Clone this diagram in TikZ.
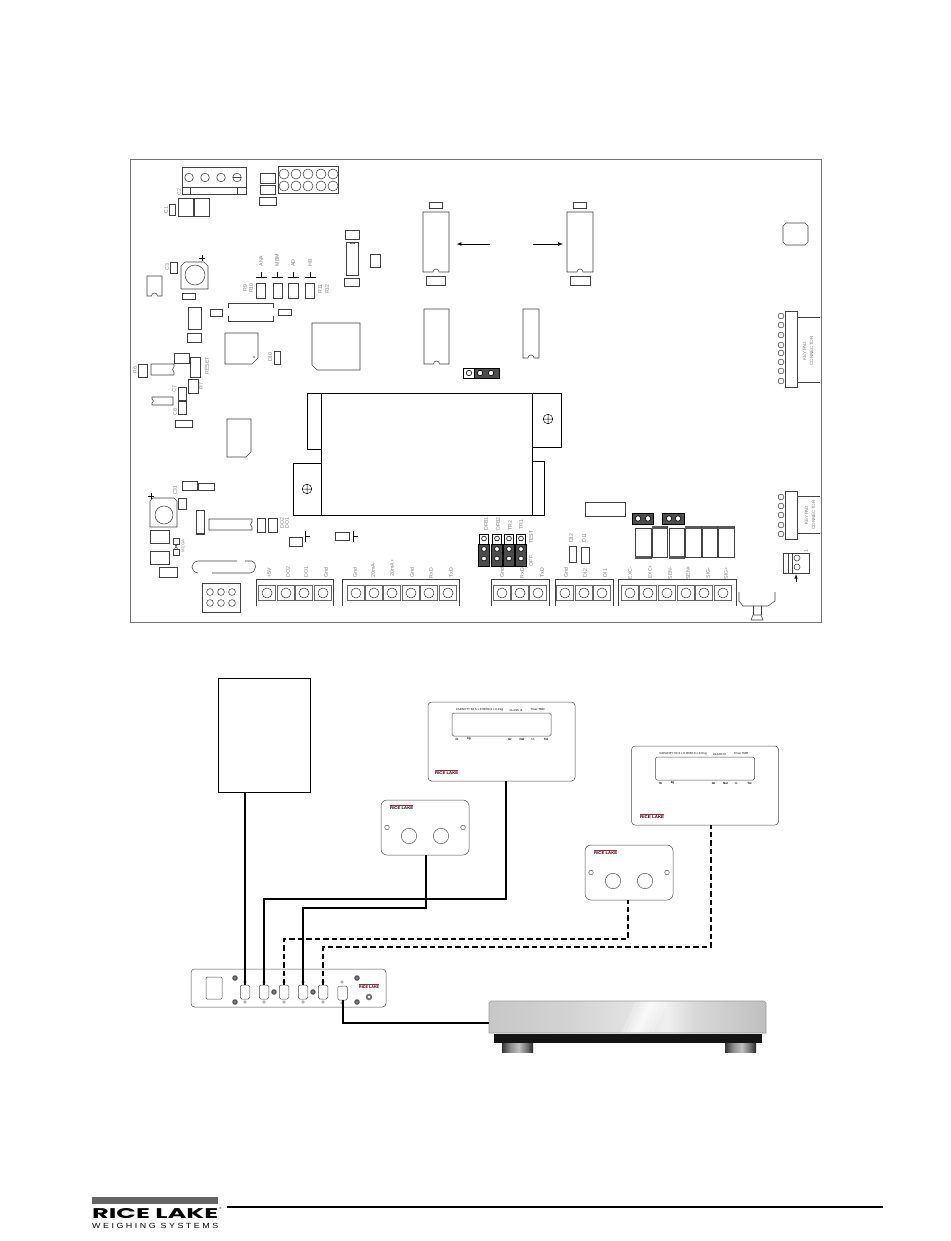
\documentclass[tikz,border=0pt]{standalone}
\usepackage{fontspec}
\setmainfont{Liberation Sans}
\usetikzlibrary{calc}
\definecolor{lbgray}{gray}{0.5}
\definecolor{compc}{gray}{0.25}
\definecolor{darkj}{gray}{0.3}
\definecolor{ricered}{RGB}{200,20,50}
\newcounter{lbcnt}
\tikzset{
  comp/.style={draw=compc,line width=0.55pt},
  bat/.style={draw=black,line width=0.9pt},
  wire/.style={draw=black,line width=2pt},
  dwire/.style={wire,dash pattern=on 5.5pt off 3pt},
  lab/.style={text=lbgray,inner sep=0pt,font=\fontsize{5.2}{6}\selectfont},
  panelbox/.style={draw=black!70,line width=0.5pt,rounded corners=3.5pt,inner sep=0pt},
  dsub/.style={draw=black!70,line width=0.5pt,rounded corners=1.5pt,minimum width=9.5pt,minimum height=14pt,inner sep=0pt,fill=white},
  jlight/.style={draw=black,line width=0.6pt,fill=white},
  jdark/.style={draw=black,line width=0.6pt,fill=darkj},
  jhole/.style={draw=black,line width=0.6pt,fill=white},
}
\pgfdeclarehorizontalshading{scalebody}{100bp}{
  color(0bp)=(black!22);color(25bp)=(black!22);color(40bp)=(black!17);
  color(53bp)=(black!10);color(57bp)=(black!6);color(62bp)=(black!15);color(75bp)=(black!25);color(100bp)=(black!25)}
\pgfdeclarehorizontalshading{scalefoot}{100bp}{
  color(0bp)=(black!80);color(25bp)=(black!80);color(38bp)=(black!45);
  color(52bp)=(black!25);color(65bp)=(black!55);color(75bp)=(black!85);color(100bp)=(black!85)}
% rectangle component
\newcommand\rct[4]{\draw[comp] (#1,#2) rectangle (#3,#4);}
% IC with a notch on its lower side
\newcommand\icn[4]{\pgfmathsetmacro\cxx{(#1+#3)/2}\pgfmathsetmacro\cxa{\cxx+3}\pgfmathsetmacro\cxb{\cxx-3}\pgfmathsetmacro\cyy{#4-4}%
  \draw[comp] (#1,#2) -- (#3,#2) -- (#3,#4) -- (\cxa,#4) .. controls (\cxa,\cyy) and (\cxb,\cyy) .. (\cxb,#4) -- (#1,#4) -- cycle;}
% rotated label
\newcommand\lbl[3]{\stepcounter{lbcnt}\node[lab,rotate=90] (lb\arabic{lbcnt}) at (#1,#2) {#3};}
% terminal position
\newcommand\tb[2]{\draw[draw=black!60,line width=0.6pt] (#1-8.5,#2-7.5) rectangle (#1+8.5,#2+7.5); \draw[draw=black!80,line width=0.5pt] (#1,#2) circle (5);}
% terminal block frame
\newcommand\tbf[2]{\draw[comp] (#1,606) -- (#1,579) -- (#2,579) -- (#2,606);}
% small maker's mark
\newcommand\minilogo[3]{\stepcounter{lbcnt}\fill[ricered] (#1,#2) rectangle (#1+#3,#2+1);
  \node[inner sep=0pt,anchor=north west] (lb\arabic{lbcnt}) at (#1,#2+1.4) {\resizebox{#3pt}{2.8pt}{\bfseries RICE LAKE}};}
% display panel
\newcommand\indic[3]{%
  \node[panelbox,minimum width=147pt,minimum height=79pt] (#1) at (#2,#3) {};
  \draw[draw=black!70,line width=0.5pt,rounded corners=1.5pt] ($(#1.center)+(-49.5,-28.5)$) rectangle ($(#1.center)+(49.5,-5.5)$);
  \stepcounter{lbcnt}\node[inner sep=0pt,font=\fontsize{2.9}{3}\selectfont] (lb\arabic{lbcnt}) at ($(#1.center)+(-22,-31.5)$) {CAPACITY 6X 6 x 0.00/6X 6 x 0.0 kg};
  \stepcounter{lbcnt}\node[inner sep=0pt,font=\fontsize{2.9}{3}\selectfont] (lb\arabic{lbcnt}) at ($(#1.center)+(14.5,-31.5)$) {CLASS III};
  \stepcounter{lbcnt}\node[inner sep=0pt,font=\fontsize{2.9}{3}\selectfont] (lb\arabic{lbcnt}) at ($(#1.center)+(36,-31.5)$) {Tmax TMR};
  \foreach \dx/\tx in {-44.5/lb,-32.5/kg,8.5/Gr,20.5/Net,31.5/{+/-},44.5/Tot}{%
    \node[inner sep=0pt,font=\fontsize{3}{3}\selectfont\bfseries] at ($(#1.center)+(\dx,-2.5)$) {\tx};}
}
% button panel
\newcommand\btn[3]{%
  \node[panelbox,rounded corners=6pt,minimum width=88pt,minimum height=55pt] (#1) at (#2,#3) {};
  \draw[draw=black!70,line width=0.45pt] ($(#1.center)+(-38,0)$) circle (2.3) ($(#1.center)+(38,0)$) circle (2.3)
     ($(#1.center)+(-16,8.5)$) circle (7.7) ($(#1.center)+(16,8.5)$) circle (7.7);
}
\begin{document}
\begin{tikzpicture}[x=1pt,y=-1pt]
\useasboundingbox (0,0) rectangle (950,1241);
\fill[white] (0,0) rectangle (950,1241);
% board outline
\draw[draw=black!55,line width=0.9pt] (130,159) rectangle (821,622);
% --- top left
\draw[comp] (182,167) rectangle (246,194);
\draw[comp] (182,187) -- (246,187);
\draw[comp] (190,187) rectangle (237,194);
\foreach \x in {189,205,221,237}{\draw[comp] (\x,177.5) circle (4.3);}
\draw[comp] (232.7,177.5) -- (241.3,177.5);
\rct{278}{166}{338}{193}
\foreach \x in {284,296,308,321,333}{\foreach \y in {174,186}{\draw[comp] (\x,\y) circle (5);}}
\rct{260}{173}{275}{183}\rct{260}{185}{275}{194}\rct{259}{197}{276}{205}
\rct{169}{204}{175}{215}\rct{178}{198}{193}{216}\rct{194}{198}{209}{216}
\lbl{179}{192}{C2}\lbl{166}{210}{C1}
% fuse
\rct{345}{230}{359}{239}\rct{346.5}{242}{358.5}{275}\rct{344}{278}{359}{286}\rct{370}{254}{380}{267}
\draw[comp] (349,242)..controls(350,244.5)and(355,244.5)..(356,242);
% upper ICs
\icn{423}{212}{449}{272}\rct{429}{202}{442}{208}\rct{426}{276}{445}{285}
\icn{567}{212}{593}{272}\rct{573}{202}{586}{208}\rct{570}{276}{590}{285}
\coordinate (leftic) at (456.5,244);\coordinate (lefta) at (490,244);
\coordinate (rightic) at (563,244);\coordinate (righta) at (533,244);
\draw[black,line width=0.7pt,-latex] (lefta) -- (leftic);
\draw[black,line width=0.7pt,-latex] (righta) -- (rightic);
% capacitor C3
\rct{170}{262}{177}{273}\lbl{167}{267}{C3}
\draw[comp] (185,262) -- (204,262) -- (208,266) -- (208,289) -- (181,289) -- (181,266) -- cycle;
\draw[comp] (195,275) circle (10);
\draw[line width=0.5pt] (199,258) -- (205,258) (202,255) -- (202,261);
\icn{147}{276}{162}{296}\rct{182}{293}{195}{299}
\rct{188}{307}{201}{329}\rct{187}{333}{201}{342}\rct{210}{309}{222}{316}\rct{278}{309}{291}{315}
\draw[comp] (228,303) rectangle (273,321);
\draw[white,line width=1.2pt] (228,308)--(228,316) (273,308)--(273,316);
% LEDs
\lbl{261}{261}{ANA}\lbl{277}{260}{MBM}\lbl{293}{263}{AD}\lbl{310}{263}{HB}
\foreach \x in {261,277,293,310}{\draw[black,line width=0.5pt] (\x-5.5,277) -- (\x+5.5,277) (\x,272) -- (\x,277);}
\rct{256}{283}{265}{298}\rct{273}{283}{282}{298}\rct{288}{283}{298}{298}\rct{305}{283}{314}{298}
\lbl{245}{288}{R9}\lbl{251}{288}{R10}\lbl{320}{289}{R11}\lbl{327}{289}{R12}
% chips
\draw[comp] (225,333) -- (258,333) -- (258,358) -- (252,364) -- (225,364) -- cycle;
\fill[black!70] (254,357) circle (0.8);
\rct{274}{351}{280}{364}\lbl{270}{357}{D10}
\draw[comp] (312,323) -- (360,323) -- (360,370) -- (317,370) -- (312,365) -- cycle;
\icn{424}{309}{449}{364}\icn{523}{309}{539}{358}
% jumper above battery
\draw[jlight] (463,368) rectangle (474,378);
\draw[jdark] (474,368) rectangle (499,378);
\foreach \x in {469,480,491}{\draw[jhole] (\x,373) circle (2.7);}
% reset area
\rct{138}{364}{147}{377}\lbl{135}{370}{R6}
\draw[comp] (174,364) -- (151,364) -- (151,375) -- (174,375) -- (174,372) .. controls (172,371) and (172,368) .. (174,367) -- cycle;
\rct{174}{353}{189}{363}\rct{190}{357}{200}{377}\lbl{207}{366}{RESET}
\rct{188}{379}{198}{393}\lbl{201}{386}{R7}
\rct{178}{387}{186}{400}\lbl{174}{389}{C7}
\draw[comp] (152,397) -- (173,397) -- (173,405) -- (152,405) -- (152,403) .. controls (154,402) and (154,400) .. (152,399) -- cycle;
\rct{178}{401}{186}{414}\lbl{175}{412}{C8}
\rct{175}{420}{192}{427}
\draw[comp] (227,419) -- (251,419) -- (251,452) -- (246,457) -- (227,457) -- cycle;
% battery
\draw[bat] (321,393) rectangle (532,515);
\draw[bat] (321,393) -- (307,393) -- (307,449) -- (321,449);
\draw[bat] (321,463) -- (293,463) -- (293,515) -- (321,515);
\draw[bat] (532,393) -- (561,393) -- (561,447) -- (532,447);
\draw[bat] (532,461) -- (544,461) -- (544,515) -- (532,515);
\draw[line width=0.5pt] (307,489) circle (4.8) (302.2,489) -- (311.8,489) (307,484.2) -- (307,493.8);
\draw[line width=0.5pt] (548,419) circle (4.8) (543.2,419) -- (552.8,419) (548,414.2) -- (548,423.8);
% lower left
\lbl{175}{490}{C31}\rct{182}{481}{197}{490}\rct{198}{483}{214}{490}\rct{178}{498}{186}{509}
\draw[comp] (153,498) -- (174,498) -- (177,501) -- (177,527) -- (150,527) -- (150,501) -- cycle;
\draw[comp] (164,515) circle (9);
\draw[line width=0.5pt] (148,496) -- (154,496) (151,493) -- (151,499);
\rct{196}{510}{204}{534}\fill[black!75] (196,532.5) rectangle (204,534);
\draw[comp] (252,519) -- (209,519) -- (209,530) -- (252,530) -- (252,527) .. controls (250,526) and (250,523) .. (252,522) -- cycle;
\rct{257}{518}{265}{532}\rct{268}{518}{277}{532}\lbl{282}{523}{DO2}\lbl{287}{523}{DO1}
\rct{289}{537}{302}{546}\draw[black,line width=0.5pt] (305,531) -- (305,542) (305,536) -- (310,536);
\rct{335}{532}{349}{540}\draw[black,line width=0.5pt] (353,531) -- (353,542) (353,536) -- (358,536);
\rct{150}{530}{169}{543}\rct{150}{551}{169}{564}\rct{159}{567}{177}{577}
\draw[comp] (173,538) rectangle (179,544) (173,549) rectangle (179,555);
\draw[comp] (174.5,544) -- (176,546.5) -- (174.5,549) (177.5,544) -- (176,546.5) -- (177.5,549);
\stepcounter{lbcnt}\node[lab,rotate=90,font=\fontsize{4.2}{5}\selectfont] (lb\arabic{lbcnt}) at (183,546) {MEGA};
% crystal
\draw[comp] (198,561) -- (237,561) (245,561) -- (252,561) .. controls (257,562) and (257,572) .. (250,573) -- (212,573) (198,573) .. controls (190,572) and (190,562) .. (198,561);
% 6-pin header
\rct{202}{583}{240}{612}
\foreach \x in {210,221,232}{\foreach \y in {592,603}{\draw[comp] (\x,\y) circle (3.4);}}
% terminal blocks
\tbf{256}{333}\tbf{342}{459}\tbf{491}{549}\tbf{555}{613}\tbf{618}{736}
\foreach \x in {267,286,304,323,356,374,392,411,429,448,502,520,538,565,584,602,630,648,667,686,704,723}{\tb{\x}{593}}
\lbl{269}{573}{+5V}\lbl{288}{572}{DO2}\lbl{306}{572}{DO1}\lbl{326}{573}{Gnd}
\lbl{355}{573}{Gnd}\lbl{373}{570}{20mA-}\lbl{392}{568}{20mA+}\lbl{412}{573}{Gnd}\lbl{431}{573}{RxD}\lbl{451}{573}{TxD}
\lbl{502}{573}{Gnd}\lbl{522}{573}{RxD}\lbl{542}{573}{TxD}
\lbl{566}{573}{Gnd}\lbl{585}{573}{DI2}\lbl{605}{573}{DI1}
\lbl{630}{573}{EXC-}\lbl{650}{572}{EXC+}\lbl{670}{573}{SEN-}\lbl{688}{573}{SEN+}\lbl{708}{573}{SIG-}\lbl{726}{573}{SIG+}
% bracket
\draw[comp] (739,592) -- (739,601) -- (743,606) -- (768,606) -- (775,601) -- (775,592);
\draw[comp] (753,606) -- (753,615) (761,606) -- (761,615);
\draw[comp] (753,615) -- (751,620) -- (763,620) -- (761,615) -- cycle;
% DFB jumpers
\foreach \x in {484,497,509,521}{
  \draw[jlight] (\x-4.5,534) rectangle (\x+4.5,544);
  \draw[jdark] (\x-5.5,544) rectangle (\x+5.5,566);
  \foreach \y in {538.5,549,558.5}{\draw[jhole] (\x,\y) circle (2.4);}
}
\lbl{486}{524}{DFB1}\lbl{498}{524}{DFB2}\lbl{510}{526}{TR2}\lbl{521}{525}{TR1}\lbl{531}{537}{TEST}\lbl{531}{561}{OFF}
\lbl{571}{538}{D12}\lbl{584}{538}{D11}
\rct{569}{546}{576}{562}\rct{581}{547}{589}{563}
\rct{585}{502}{625}{516}
% dark jumpers
\draw[jdark] (632,513) rectangle (653,524);
\foreach \x in {638,648}{\draw[jhole] (\x,518.5) circle (2.7);}
\draw[jdark] (662,513) rectangle (684,524);
\foreach \x in {669,678}{\draw[jhole] (\x,518.5) circle (2.7);}
% relays
\foreach \a/\b in {635/651,669/684}{\rct{\a}{528}{\b}{558}\fill[black!65] (\a,556) rectangle (\b,558.5);}
\foreach \a/\b in {652/667,685/701,702/717,718/734}{\rct{\a}{526}{\b}{557}\fill[black!65] (\a,526) rectangle (\b,528.5);}
% right side
\draw[comp] (786,223) -- (805,223) -- (808,226) -- (808,242) -- (805,245) -- (786,245) -- (783,242) -- (783,226) -- cycle;
\rct{785}{311}{797}{387}\draw[comp] (797,317) -- (820,317) (797,382) -- (820,382);
\foreach \y in {316,325,335,345,353,362,371,381}{\draw[comp] (781,\y) circle (2.9);}
\stepcounter{lbcnt}\node[lab,rotate=90,align=center,font=\fontsize{4.6}{7}\selectfont] (lb\arabic{lbcnt}) at (808,351) {KEYPAD\\CONNECTOR};
\rct{785}{491}{797}{539}\draw[comp] (797,496) -- (820,496) (797,533) -- (820,533);
\foreach \y in {497,506,515,525,534}{\draw[comp] (781,\y) circle (2.9);}
\stepcounter{lbcnt}\node[lab,rotate=90,align=center,font=\fontsize{4.6}{7}\selectfont] (lb\arabic{lbcnt}) at (810,515) {KEYPAD\\CONNECTOR};
\rct{783}{553}{809}{573}\draw[comp] (788,553) -- (788,573) (792,553) -- (792,573);
\foreach \y in {558,567}{\draw[comp] (797,\y) circle (3);}
\lbl{806}{551}{1}
\coordinate (jptail) at (796,582);\coordinate (jptip) at (796,574);
\draw[black,line width=0.6pt,-latex] (jptail) -- (jptip);
% ===== lower diagram =====
\node[draw=black,line width=0.6pt,minimum width=92pt,minimum height=114pt,inner sep=0pt] (host) at (264,735) {};
\indic{ind1}{501.5}{741.5}
\minilogo{435}{770}{23}
\indic{ind2}{705}{785.5}
\minilogo{640}{814}{24}
\btn{pan1}{425}{827.5}
\minilogo{390}{805}{23}
\btn{pan2}{629}{872.5}
\minilogo{594}{850}{23}
% rear panel
\node[panelbox,minimum width=195pt,minimum height=38pt] (rear) at (288.5,988) {};
\draw[draw=black!70,line width=0.5pt,rounded corners=1pt] (206,977) rectangle (222,999);
\foreach \x/\n in {245/c1,264/c2,284/c3,303/c4,323/c5}{
  \node[dsub] (\n) at (\x,992) {};
  \draw[draw=black!60,line width=0.4pt] (\x,982) circle (1.4) (\x,1002) circle (1.4);
}
\node[dsub] (c6) at (342.5,993) {};
\draw[draw=black!60,line width=0.4pt] (342,982) circle (1.4) (342,1003) circle (1.4);
\foreach \x/\y in {235/978,235/1002,274/992,313/992,357/978,357/1002}{\fill[black!65] (\x,\y) circle (2.8);\fill[black!35] (\x,\y) circle (0.8);}
\fill[black!55] (369,997) circle (3.3);\fill[white] (369,997) circle (1.4);
\minilogo{359}{984}{20}
% scale
\shade[shading=scalebody] (489,1003) -- (491,1001) -- (764,1001) -- (766,1003) -- (766,1033) -- (489,1033) -- cycle;
\foreach \w in {2,4,7,11,16}{
  \fill[white,opacity=0.25] (637-\w,1033) -- (652-\w,1001) -- (652+\w,1001) -- (637+\w,1033) -- cycle;
}
\draw[black!40,line width=0.6pt] (489,1003) -- (491,1001) -- (764,1001) -- (766,1003) -- (766,1033) -- (489,1033) -- cycle;
\node[fill=black!92,minimum width=268pt,minimum height=9.5pt,inner sep=0pt] (scalebase) at (628,1038.7) {};
\shade[shading=scalefoot] (502,1043) rectangle (533,1052);
\shade[shading=scalefoot] (725,1043) rectangle (756,1052);
\coordinate (scalein) at (489,1023);
% connectors
\coordinate (ind1pin) at (506,781);\coordinate (pan1pin) at (426,855);
\coordinate (pan2pin) at (628,900);\coordinate (ind2pin) at (711,825);
\draw[wire] (c1.north) -- (c1.north |- host.south);
\draw[wire] (c2.north) -- (c2.north |- 0,899) -- (ind1pin |- 0,899) -- (ind1pin);
\draw[wire] (c4.north) -- (c4.north |- 0,908) -- (pan1pin |- 0,908) -- (pan1pin);
\draw[dwire] (c3.north) -- (c3.north |- 0,939) -- (pan2pin |- 0,939) -- (pan2pin);
\draw[dwire] (c5.north) -- (c5.north |- 0,947) -- (ind2pin |- 0,947) -- (ind2pin);
\draw[wire] (c6.south) -- (c6.south |- scalein) -- (scalein);
% footer logo
\fill[black!60] (92,1197) rectangle (218,1204);
\node[inner sep=0pt,anchor=north west] (logoname) at (92,1208) {\resizebox{126pt}{10pt}{\fontspec{Poppins}\bfseries RICE LAKE}};
\node[inner sep=0pt,anchor=north west] (logosub) at (92,1222.8) {\resizebox{126pt}{5.2pt}{\addfontfeatures{LetterSpace=28}WEIGHING SYSTEMS}};
\node[inner sep=0pt,font=\fontsize{3}{3}\selectfont] (logor) at (220.5,1208) {®};
\coordinate (rulea) at (227,1207);\coordinate (ruleb) at (883,1207);
\draw[black,line width=1.1pt] (rulea) -- (ruleb);
\end{tikzpicture}
\end{document}
